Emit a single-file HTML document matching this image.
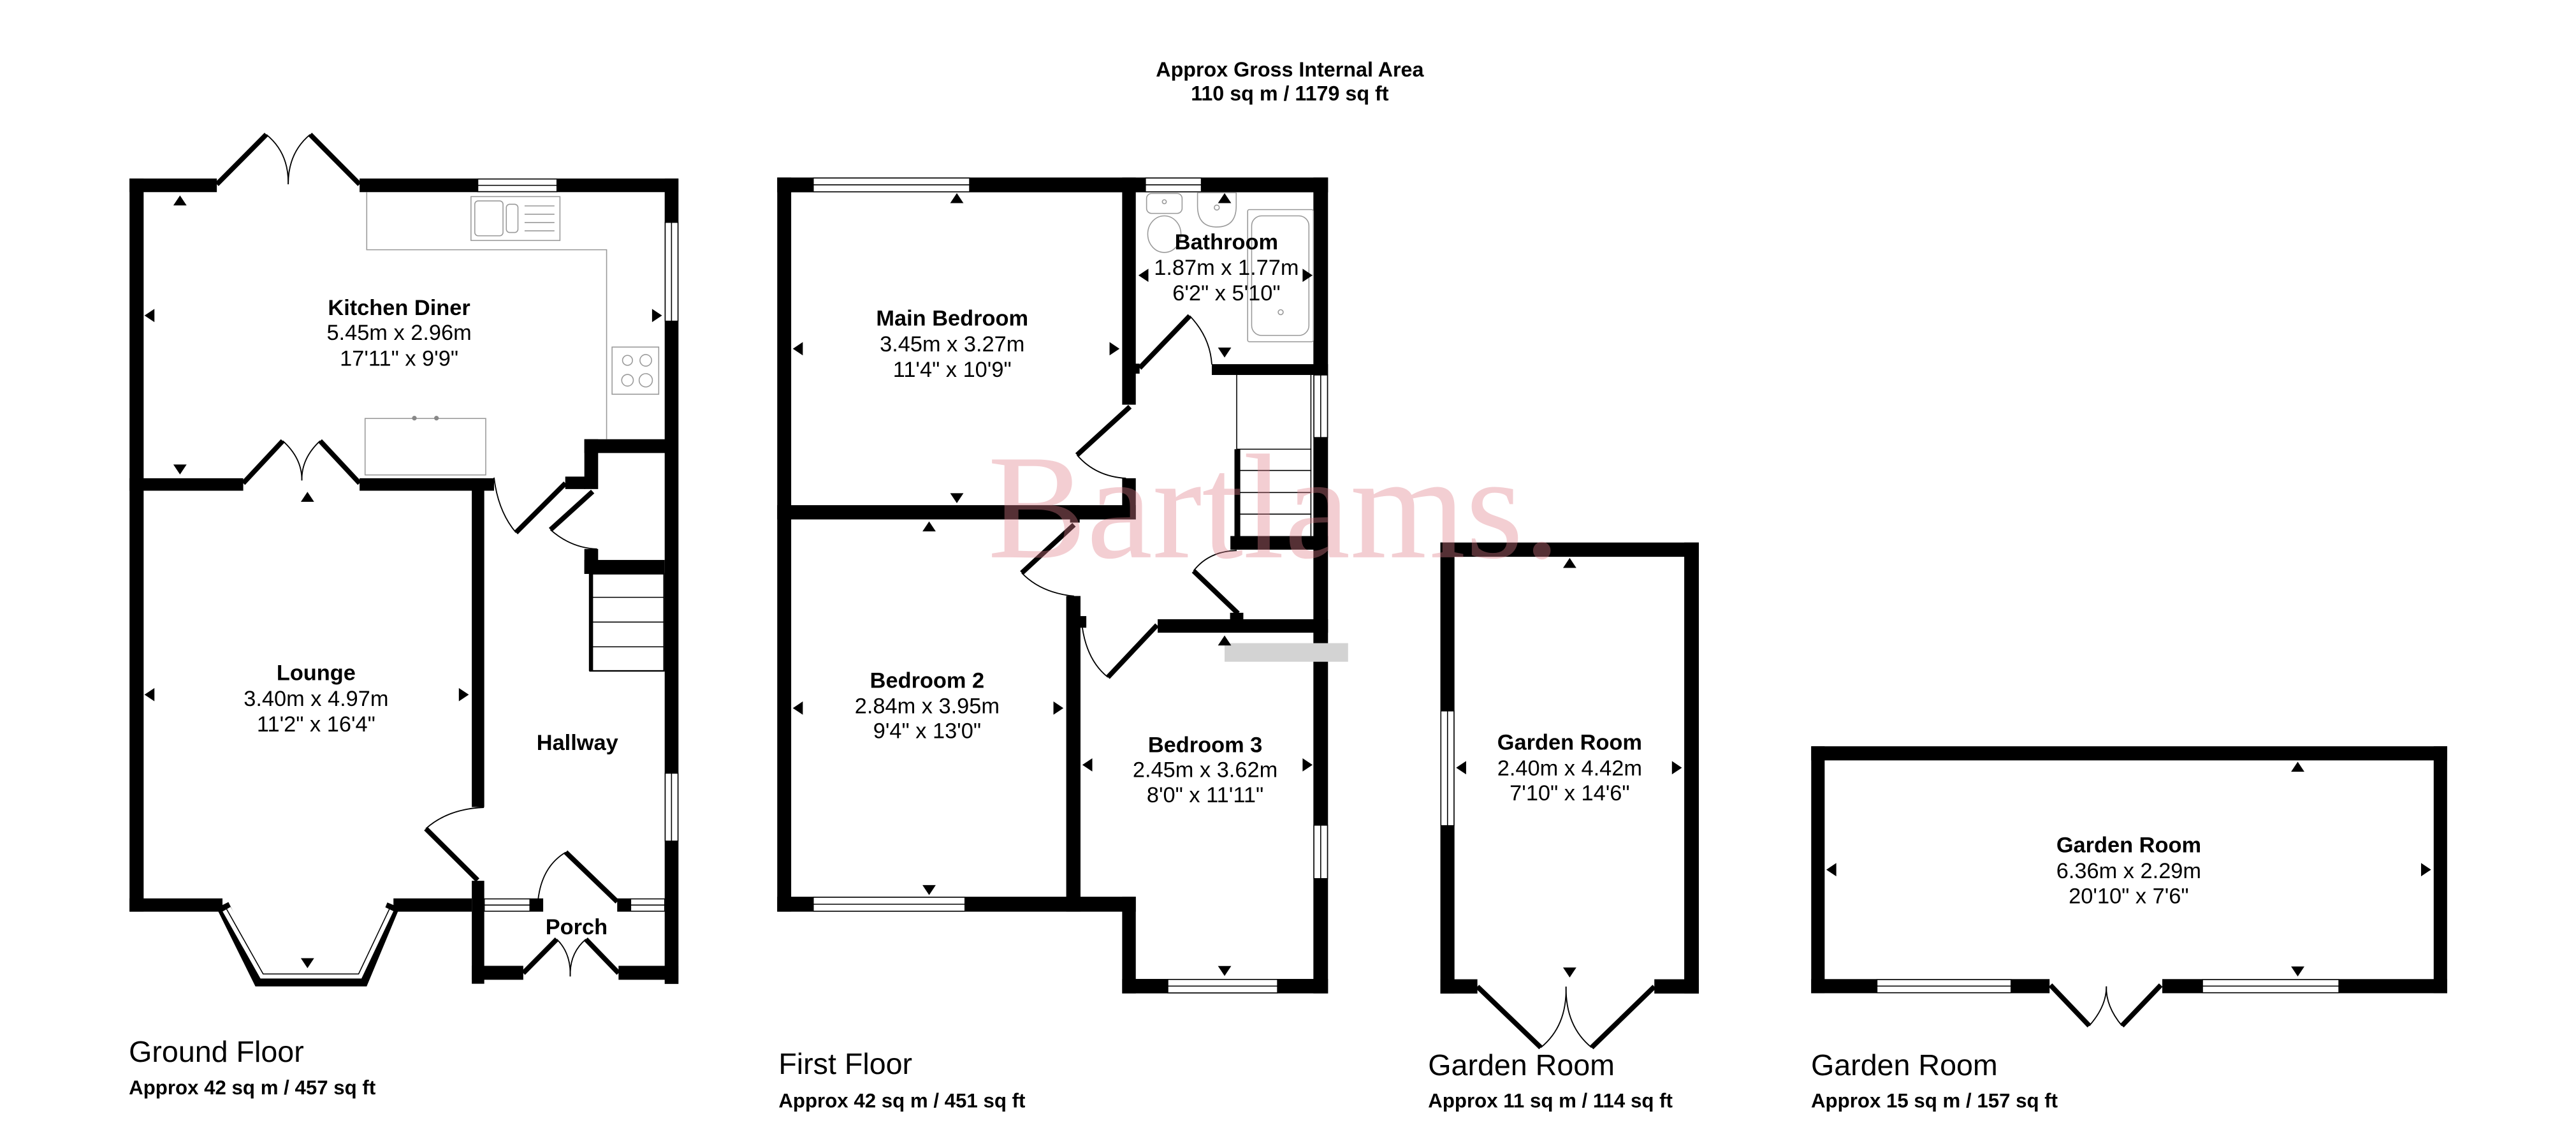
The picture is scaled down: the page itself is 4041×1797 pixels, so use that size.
<!DOCTYPE html>
<html><head><meta charset="utf-8"><style>
html,body{margin:0;padding:0;background:#fff;}
svg{display:block;}
text{font-family:"Liberation Sans",Arial,sans-serif;fill:#000;}
.b{font-weight:bold;}
.w{fill:#fff;stroke:#000;stroke-width:0.6;}
.ln{stroke:#000;stroke-width:0.6;}
.dl{stroke:#000;stroke-width:3;fill:none;}
.arc{stroke:#000;stroke-width:0.7;fill:none;}
.g{fill:none;stroke:#999;stroke-width:0.6;}
</style></head><body>
<svg width="4041" height="1797" viewBox="0 0 1551.8 690.1" xmlns="http://www.w3.org/2000/svg">
<rect x="0" y="0" width="1551.8" height="690.1" fill="#fff"/>

<text class="b" x="777" y="46" font-size="12.4" text-anchor="middle">Approx Gross Internal Area</text>
<text class="b" x="777" y="60.5" font-size="12.4" text-anchor="middle">110 sq m / 1179 sq ft</text>

<!-- GROUND FLOOR -->
<g fill="#000">
<rect x="78" y="107.5" width="8.5" height="441.5"/>
<rect x="78" y="107.5" width="52.6" height="8.2"/>
<rect x="216.6" y="107.5" width="192" height="8.2"/>
<rect x="400.4" y="107.5" width="8.3" height="485"/>
<rect x="78" y="288" width="68.5" height="7.5"/>
<rect x="216.6" y="288" width="81" height="7.5"/>
<rect x="284.2" y="288" width="7.5" height="198"/>
<rect x="284.2" y="530.4" width="7.5" height="62"/>
<rect x="78" y="541" width="56" height="8"/>
<rect x="237" y="541" width="47.2" height="8"/>
<rect x="284.2" y="581.6" width="31" height="8.4"/>
<rect x="372.6" y="581.6" width="36" height="8.4"/>
<rect x="319.2" y="541" width="8" height="8"/>
<rect x="371.8" y="541" width="8.1" height="8"/>
<rect x="352" y="264.5" width="56" height="8.3"/>
<rect x="352" y="264.5" width="8.3" height="30"/>
<rect x="352" y="330.6" width="8.3" height="15"/>
<rect x="352" y="337.2" width="48.4" height="8.3"/>
<rect x="340.5" y="287" width="12" height="7.5"/>
</g>
<rect class="w" x="287.8" y="107.8" width="47.7" height="7.6"/><line class="ln" x1="287.8" y1="111.6" x2="335.5" y2="111.6"/>
<rect class="w" x="400.7" y="133.9" width="7.7" height="59.5"/><line class="ln" x1="404.5" y1="133.9" x2="404.5" y2="193.4"/>
<rect class="w" x="400.7" y="465.6" width="7.7" height="40.9"/><line class="ln" x1="404.5" y1="465.6" x2="404.5" y2="506.5"/>
<rect class="w" x="291.7" y="541.3" width="27.5" height="7.4"/><line class="ln" x1="291.7" y1="545" x2="319.2" y2="545"/>
<rect class="w" x="379.9" y="541.3" width="20.5" height="7.4"/><line class="ln" x1="379.9" y1="545" x2="400.4" y2="545"/>
<path d="M134,545 L156.3,590 L218.2,590 L237,545" fill="none" stroke="#000" stroke-width="8"/>
<path d="M136.5,547.5 L158.5,586.5 L216,586.5 L234.5,547.5" fill="none" stroke="#fff" stroke-width="5.5"/>
<path d="M136.5,547.5 L158.5,586.5 L216,586.5 L234.5,547.5" fill="none" stroke="#000" stroke-width="0.6"/>
<line class="dl" x1="130.6" y1="111" x2="160.4" y2="81"/>
<path class="arc" d="M160.4,81 Q174,92 173.6,111"/>
<line class="dl" x1="216.6" y1="111" x2="186.8" y2="81"/>
<path class="arc" d="M186.8,81 Q173.5,92 173.6,111"/>
<line class="dl" x1="146.5" y1="291" x2="170.3" y2="265.5"/>
<path class="arc" d="M170.3,265.5 Q182,276 181.8,289.3"/>
<line class="dl" x1="216.6" y1="291" x2="192.8" y2="265.5"/>
<path class="arc" d="M192.8,265.5 Q181.5,276 181.8,289.3"/>
<path class="arc" d="M297.6,287.6 Q300,308 310.8,320.7"/>
<line class="dl" x1="310.8" y1="320.7" x2="340.6" y2="291"/>
<line class="dl" x1="357" y1="296" x2="331.6" y2="319"/>
<path class="arc" d="M331.6,319 Q344,330 359.7,330.6"/>
<path class="arc" d="M291.5,486.2 Q270,487 256.5,499"/>
<line class="dl" x1="256.5" y1="499" x2="287.7" y2="530"/>
<line class="dl" x1="371.8" y1="543" x2="340.8" y2="513.2"/>
<path class="arc" d="M340.8,513.2 Q326,522 324,543"/>
<line class="dl" x1="315.2" y1="586" x2="335.4" y2="565.6"/>
<path class="arc" d="M335.4,565.6 Q344,574 343.5,588"/>
<line class="dl" x1="372.6" y1="586" x2="352.9" y2="565.6"/>
<path class="arc" d="M352.9,565.6 Q343,574 343.5,588"/>
<rect x="355.4" y="345.5" width="44.6" height="58.5" fill="none" stroke="#000" stroke-width="0.9"/>
<line x1="356" y1="345.5" x2="356" y2="404" stroke="#000" stroke-width="2.5"/>
<line class="ln" x1="355.4" y1="359.7" x2="400" y2="359.7"/>
<line class="ln" x1="355.4" y1="374.6" x2="400" y2="374.6"/>
<line class="ln" x1="355.4" y1="389.5" x2="400" y2="389.5"/>
<path class="g" d="M220.9,115.7 L220.9,150.4 L365.4,150.4 L365.4,264.5"/>
<rect class="g" x="219.9" y="252" width="72.7" height="34"/>
<circle cx="249.6" cy="251.8" r="1.4" fill="#888"/><circle cx="262.9" cy="251.8" r="1.4" fill="#888"/>
<rect class="g" x="283.7" y="118.4" width="53.6" height="26.4"/>
<rect class="g" x="286" y="121" width="17" height="21" rx="2"/>
<rect class="g" x="305" y="123" width="7" height="17" rx="2"/>
<line class="g" x1="316" y1="124" x2="334" y2="124"/><line class="g" x1="316" y1="129" x2="334" y2="129"/><line class="g" x1="316" y1="134" x2="334" y2="134"/><line class="g" x1="316" y1="139" x2="334" y2="139"/>
<rect class="g" x="368.7" y="209" width="28.1" height="28.4"/>
<circle class="g" cx="378" cy="217" r="3"/><circle class="g" cx="389" cy="217" r="3.5"/><circle class="g" cx="378" cy="229" r="3.5"/><circle class="g" cx="389" cy="229" r="4"/>
<g fill="#000">
<polygon points="104.4,123.7 112.4,123.7 108.4,117.7"/>
<polygon points="93,186 93,194 87,190"/>
<polygon points="392.8,186 392.8,194 398.8,190"/>
<polygon points="104.4,279.7 112.4,279.7 108.4,285.7"/>
<polygon points="181.2,302.2 189.2,302.2 185.2,296.2"/>
<polygon points="93,414.3 93,422.3 87,418.3"/>
<polygon points="276.4,414.3 276.4,422.3 282.4,418.3"/>
<polygon points="181.2,577 189.2,577 185.2,583"/>
</g>
<g font-size="13.2" text-anchor="middle">
<text class="b" x="240.4" y="189.8">Kitchen Diner</text>
<text x="240.4" y="204.6">5.45m x 2.96m</text>
<text x="240.4" y="220.2">17'11" x 9'9"</text>
<text class="b" x="190.4" y="409.6">Lounge</text>
<text x="190.4" y="425.2">3.40m x 4.97m</text>
<text x="190.4" y="440.4">11'2" x 16'4"</text>
<text class="b" x="347.8" y="451.6">Hallway</text>
<text class="b" x="347.3" y="562.6">Porch</text>
</g>
<text x="77.6" y="639.5" font-size="17.9">Ground Floor</text>
<text class="b" x="77.6" y="659" font-size="12">Approx 42 sq m / 457 sq ft</text>

<!-- FIRST FLOOR -->
<g fill="#000">
<rect x="468.2" y="106.9" width="331.8" height="8.9"/>
<rect x="468.2" y="106.9" width="8.4" height="442.1"/>
<rect x="676" y="106.9" width="8.2" height="136.8"/>
<rect x="676" y="288" width="8.2" height="24.8"/>
<rect x="684" y="219" width="2.5" height="6"/>
<rect x="730" y="219.3" width="70" height="6.5"/>
<rect x="791.2" y="106.9" width="8.8" height="491.3"/>
<rect x="468.2" y="304.2" width="216" height="8.6"/>
<rect x="644.6" y="304.2" width="5.8" height="10.5"/>
<rect x="642.3" y="358.9" width="8.6" height="190.1"/>
<rect x="650.9" y="371" width="3.5" height="7"/>
<rect x="697.4" y="372.9" width="102.6" height="8.1"/>
<rect x="741" y="369" width="8" height="4"/>
<rect x="741.2" y="322.8" width="58.8" height="8.2"/>
<rect x="468.2" y="540" width="216" height="9"/>
<rect x="676" y="540" width="8.2" height="58.2"/>
<rect x="676" y="589.5" width="124" height="8.7"/>
</g>
<rect class="w" x="489.9" y="107.2" width="94.2" height="8.3"/><line class="ln" x1="489.9" y1="111.3" x2="584.1" y2="111.3"/>
<rect class="w" x="690" y="107.2" width="33.7" height="8.3"/><line class="ln" x1="690" y1="111.3" x2="723.7" y2="111.3"/>
<rect class="w" x="791.5" y="225.8" width="8.2" height="37.7"/><line class="ln" x1="795.6" y1="225.8" x2="795.6" y2="263.5"/>
<rect class="w" x="791.5" y="496.9" width="8.2" height="32.2"/><line class="ln" x1="795.6" y1="496.9" x2="795.6" y2="529.1"/>
<rect class="w" x="489.9" y="540.3" width="91.4" height="8.4"/><line class="ln" x1="489.9" y1="544.5" x2="581.3" y2="544.5"/>
<rect class="w" x="703.5" y="589.8" width="66.1" height="8.1"/><line class="ln" x1="703.5" y1="593.8" x2="769.6" y2="593.8"/>
<line class="dl" x1="686.5" y1="221.6" x2="716.7" y2="190.2"/>
<path class="arc" d="M716.7,190.2 Q729,203 730,219.5"/>
<line class="dl" x1="680.7" y1="244.9" x2="648.8" y2="274"/>
<path class="arc" d="M648.8,274 Q660,287 678.3,288"/>
<line class="dl" x1="647" y1="316" x2="615.5" y2="345"/>
<path class="arc" d="M615.5,345 Q627,357 647,359"/>
<path class="arc" d="M652,378 Q655,398 667.4,407.8"/>
<line class="dl" x1="667.4" y1="407.8" x2="697" y2="376.4"/>
<path class="arc" d="M745,331.5 Q728,332 719,343.8"/>
<line class="dl" x1="719" y1="343.8" x2="745.8" y2="369.4"/>
<line class="ln" x1="745" y1="225.8" x2="745" y2="270.5"/>
<line x1="745.4" y1="270.5" x2="745.4" y2="331" stroke="#000" stroke-width="3.5"/>
<line class="ln" x1="745" y1="270.5" x2="790" y2="270.5"/>
<line class="ln" x1="745" y1="283.3" x2="790" y2="283.3"/>
<line class="ln" x1="745" y1="296.6" x2="790" y2="296.6"/>
<line class="ln" x1="745" y1="309.6" x2="790" y2="309.6"/>
<line class="ln" x1="789.7" y1="225.8" x2="789.7" y2="322.8"/>
<rect class="g" x="690.7" y="116.5" width="21.4" height="12" rx="3"/>
<ellipse class="g" cx="701.4" cy="141" rx="10" ry="11"/>
<circle class="g" cx="701.4" cy="121.5" r="1.2"/>
<path class="g" d="M721.4,116 L744.7,116 L744.7,124 Q744.7,136.7 733,136.7 Q721.4,136.7 721.4,124 Z"/>
<circle class="g" cx="733" cy="125" r="1.5"/>
<rect class="g" x="751.6" y="126.2" width="39.6" height="79.6" rx="1"/>
<rect class="g" x="754" y="130" width="34.5" height="72" rx="6"/>
<circle class="g" cx="771.5" cy="188" r="1.5"/>
<rect x="737.7" y="387.3" width="74.4" height="11.2" fill="#d3d3d3"/>
<g fill="#000">
<polygon points="572.4,122.3 580.4,122.3 576.4,116.3"/>
<polygon points="483.6,206 483.6,214 477.6,210"/>
<polygon points="668.4,206 668.4,214 674.4,210"/>
<polygon points="572.4,297 580.4,297 576.4,303"/>
<polygon points="555.7,320 563.7,320 559.7,314"/>
<polygon points="483.6,422.4 483.6,430.4 477.6,426.4"/>
<polygon points="634.6,422.4 634.6,430.4 640.6,426.4"/>
<polygon points="555.7,533 563.7,533 559.7,539"/>
<polygon points="733.7,122.3 741.7,122.3 737.7,116.3"/>
<polygon points="691.8,161.8 691.8,169.8 685.8,165.8"/>
<polygon points="784.7,161.8 784.7,169.8 790.7,165.8"/>
<polygon points="733.7,209.3 741.7,209.3 737.7,215.3"/>
<polygon points="733.7,388.7 741.7,388.7 737.7,382.7"/>
<polygon points="658,456.6 658,464.6 652,460.6"/>
<polygon points="784.7,456.6 784.7,464.6 790.7,460.6"/>
<polygon points="733.7,581.7 741.7,581.7 737.7,587.7"/>
</g>
<g font-size="13.2" text-anchor="middle">
<text class="b" x="573.6" y="196">Main Bedroom</text>
<text x="573.6" y="211.6">3.45m x 3.27m</text>
<text x="573.6" y="226.9">11'4" x 10'9"</text>
<text class="b" x="738.8" y="150.2">Bathroom</text>
<text x="738.8" y="165.6">1.87m x 1.77m</text>
<text x="738.8" y="180.9">6'2" x 5'10"</text>
<text class="b" x="558.5" y="414.1">Bedroom 2</text>
<text x="558.5" y="429.6">2.84m x 3.95m</text>
<text x="558.5" y="444.6">9'4" x 13'0"</text>
<text class="b" x="726" y="453">Bedroom 3</text>
<text x="726" y="467.9">2.45m x 3.62m</text>
<text x="726" y="483.1">8'0" x 11'11"</text>
</g>
<text x="469" y="646.8" font-size="17.9">First Floor</text>
<text class="b" x="469" y="666.8" font-size="12">Approx 42 sq m / 451 sq ft</text>

<!-- GARDEN ROOM 1 -->
<g fill="#000">
<rect x="867.7" y="326.7" width="155.7" height="8.6"/>
<rect x="867.7" y="326.7" width="8.5" height="271.6"/>
<rect x="1014.6" y="326.7" width="8.8" height="271.6"/>
<rect x="867.7" y="589.7" width="22.3" height="8.6"/>
<rect x="996.6" y="589.7" width="26.8" height="8.6"/>
</g>
<rect class="w" x="868" y="428.1" width="7.9" height="69.1"/><line class="ln" x1="872" y1="428.1" x2="872" y2="497.2"/>
<line class="dl" x1="890" y1="594.1" x2="928.2" y2="630.8"/>
<path class="arc" d="M928.2,630.8 Q944,618 943.4,594.1"/>
<line class="dl" x1="996.6" y1="594.1" x2="958.8" y2="630.8"/>
<path class="arc" d="M958.8,630.8 Q943,618 943.4,594.1"/>
<g fill="#000">
<polygon points="941.6,342 949.6,342 945.6,336"/>
<polygon points="883.2,458.3 883.2,466.3 877.2,462.3"/>
<polygon points="1007.2,458.3 1007.2,466.3 1013.2,462.3"/>
<polygon points="941.6,582.6 949.6,582.6 945.6,588.6"/>
</g>
<g font-size="13.2" text-anchor="middle">
<text class="b" x="945.6" y="451.5">Garden Room</text>
<text x="945.6" y="466.9">2.40m x 4.42m</text>
<text x="945.6" y="482">7'10" x 14'6"</text>
</g>
<text x="860.3" y="647.5" font-size="17.9">Garden Room</text>
<text class="b" x="860.3" y="666.8" font-size="12">Approx 11 sq m / 114 sq ft</text>

<!-- GARDEN ROOM 2 -->
<g fill="#000">
<rect x="1091.1" y="449.4" width="383.1" height="8.5"/>
<rect x="1091.1" y="449.4" width="8.1" height="148.7"/>
<rect x="1466.1" y="449.4" width="8.1" height="148.7"/>
<rect x="1091.1" y="589.6" width="143.6" height="8.5"/>
<rect x="1302.6" y="589.6" width="171.6" height="8.5"/>
</g>
<rect class="w" x="1130.7" y="589.9" width="80.8" height="7.9"/><line class="ln" x1="1130.7" y1="593.8" x2="1211.5" y2="593.8"/>
<rect class="w" x="1326.8" y="589.9" width="82.2" height="7.9"/><line class="ln" x1="1326.8" y1="593.8" x2="1409" y2="593.8"/>
<line class="dl" x1="1235.2" y1="593.2" x2="1258.6" y2="617.7"/>
<path class="arc" d="M1258.6,617.7 Q1269,606 1268.9,594"/>
<line class="dl" x1="1301.7" y1="593.2" x2="1278.3" y2="617.7"/>
<path class="arc" d="M1278.3,617.7 Q1268.5,606 1268.9,594"/>
<g fill="#000">
<polygon points="1380.2,464.7 1388.2,464.7 1384.2,458.7"/>
<polygon points="1106.2,519.7 1106.2,527.7 1100.2,523.7"/>
<polygon points="1458.5,519.7 1458.5,527.7 1464.5,523.7"/>
<polygon points="1380.2,582 1388.2,582 1384.2,588"/>
</g>
<g font-size="13.2" text-anchor="middle">
<text class="b" x="1282.4" y="513.3">Garden Room</text>
<text x="1282.4" y="528.8">6.36m x 2.29m</text>
<text x="1282.4" y="543.9">20'10" x 7'6"</text>
</g>
<text x="1091" y="647.5" font-size="17.9">Garden Room</text>
<text class="b" x="1091" y="666.8" font-size="12">Approx 15 sq m / 157 sq ft</text>

<text x="595" y="335.6" font-size="90" textLength="345" lengthAdjust="spacingAndGlyphs" style="font-family:'Liberation Serif',serif;fill:#e07f8c;opacity:0.38">Bartlams.</text>
</svg>
</body></html>
